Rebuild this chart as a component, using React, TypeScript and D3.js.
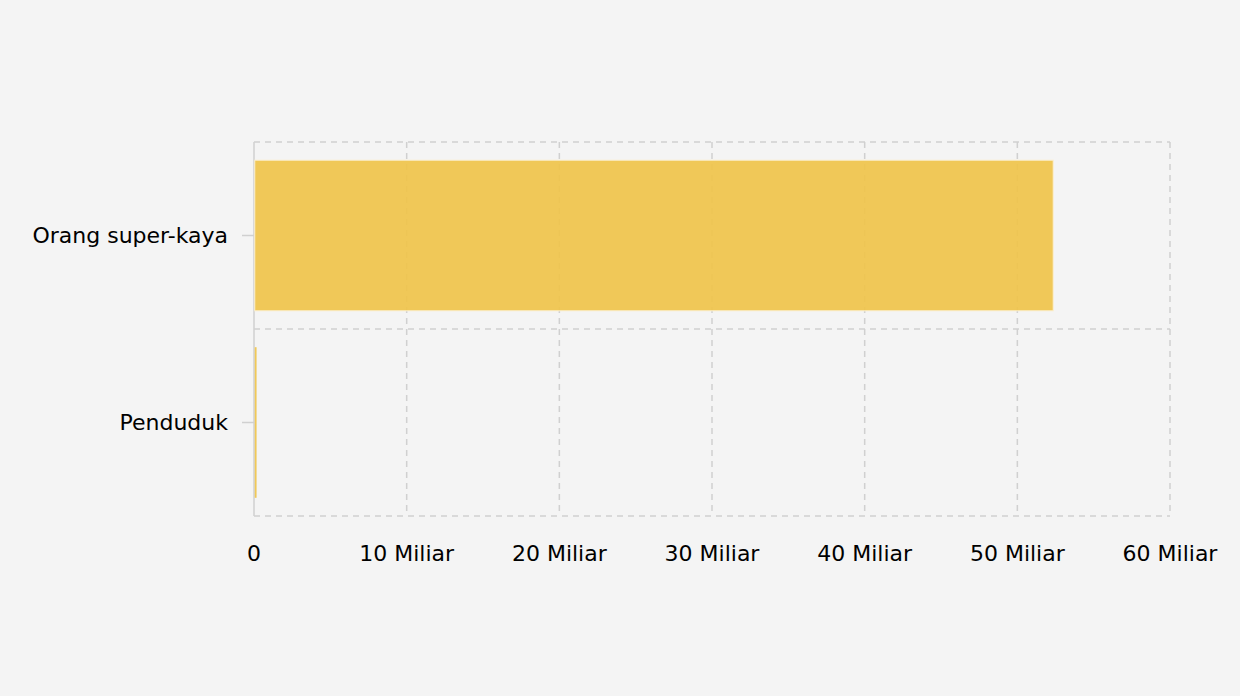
import React from "react";
import * as d3 from "d3";

const categories = ["Orang super-kaya", "Penduduk"];
const values = [52.3, 0.12]; // in Miliar
const tickValues = [0, 10, 20, 30, 40, 50, 60];
const tickLabels = ["0", "10 Miliar", "20 Miliar", "30 Miliar", "40 Miliar", "50 Miliar", "60 Miliar"];

const W = 1240;
const H = 696;
const margin = { left: 254, right: 70, top: 142, bottom: 180 };

export default function App() {
  const x = d3.scaleLinear().domain([0, 60]).range([margin.left, W - margin.right]);
  const y = d3
    .scaleBand<string>()
    .domain(categories)
    .range([margin.top, H - margin.bottom])
    .paddingInner(0.2)
    .paddingOuter(0.1);
  const boundaries = d3
    .range(categories.length + 1)
    .map((i) => margin.top + i * ((H - margin.bottom - margin.top) / categories.length));
  const grid = "#d0d0d0";
  const font = "Verdana, 'DejaVu Sans', sans-serif";
  const fs = 22;

  return (
    <div style={{ position: "fixed", left: 0, top: 0, width: W, height: H, background: "#f4f4f4" }}>
      <svg width={W} height={H} style={{ display: "block" }}>
        <rect x={0} y={0} width={W} height={H} fill="#f4f4f4" />
        {tickValues.slice(1).map((t) => (
          <line key={"v" + t} x1={x(t)} x2={x(t)} y1={margin.top} y2={H - margin.bottom} stroke={grid} strokeWidth={1.5} strokeDasharray="6,5" />
        ))}
        {boundaries.map((b, i) => (
          <line key={"h" + i} x1={margin.left} x2={W - margin.right} y1={b} y2={b} stroke={grid} strokeWidth={1.5} strokeDasharray="6,5" />
        ))}
        <line x1={margin.left} x2={margin.left} y1={margin.top} y2={H - margin.bottom} stroke={grid} strokeWidth={1.5} />
        {categories.map((c, i) => {
          const w = x(values[i]) - x(0);
          return (
            <rect
              key={c}
              x={x(0) + 0.75}
              y={y(c)! - 0.5}
              width={Math.max(1.5, w)}
              height={y.bandwidth() + 1}
              fill="#f0c347"
              fillOpacity={0.9}
              stroke={w > 4 ? "#fbefcf" : "none"}
              strokeWidth={1}
            />
          );
        })}
        {categories.map((c) => {
          const cy = y(c)! + y.bandwidth() / 2;
          return (
            <g key={"yl" + c}>
              <line x1={margin.left - 12} x2={margin.left} y1={cy} y2={cy} stroke={grid} strokeWidth={1.5} />
              <text x={margin.left - 26} y={cy} dy="0.36em" textAnchor="end" fontFamily={font} fontSize={fs} fill="#000">
                {c}
              </text>
            </g>
          );
        })}
        {tickValues.map((t, i) => (
          <text key={"xl" + t} x={x(t)} y={561} textAnchor="middle" fontFamily={font} fontSize={fs} fill="#000">
            {tickLabels[i]}
          </text>
        ))}
      </svg>
    </div>
  );
}
